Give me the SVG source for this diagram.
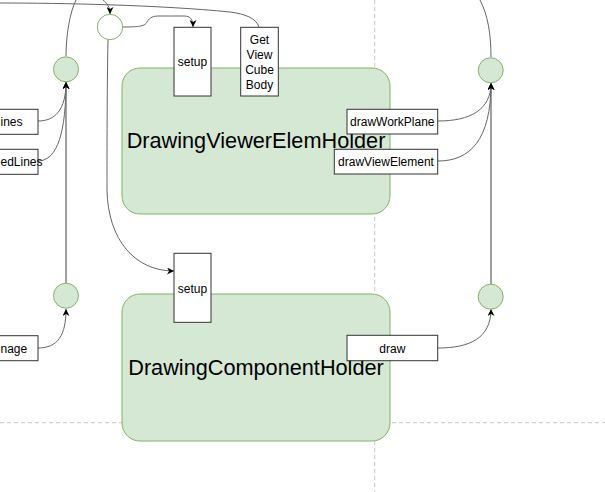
<svg xmlns="http://www.w3.org/2000/svg" width="605" height="492" viewBox="0 0 605 492">
<style>
.bg{fill:#ffffff}
.dash{stroke:#c8c8c8;stroke-width:1;stroke-dasharray:4 3;fill:none}
.holder{fill:#d5e8d4;stroke:#82b366;stroke-width:1}
.circ{fill:#d5e8d4;stroke:#82b366;stroke-width:1}
.wcirc{fill:#ffffff;stroke:#82b366;stroke-width:1}
.lbl{fill:#ffffff;stroke:#333333;stroke-width:1}
.t{font-family:"Liberation Sans",Arial,sans-serif;fill:#000000}
.s{font-size:12px}
.big{font-size:21.7px}
.c{stroke:#666666;stroke-width:1;fill:none}
.v{stroke:#888888;stroke-width:1.6;fill:none}
</style>
<defs>
<marker id="arr" viewBox="0 0 10 10" refX="10" refY="5" markerWidth="7" markerHeight="7" orient="auto" markerUnits="userSpaceOnUse">
<path d="M0,0 L10,5 L0,10 L3,5 Z" fill="#000000"/>
</marker>
</defs>
<rect class="bg" x="0" y="0" width="605" height="492"/>
<g id="guides">
<line class="dash" x1="374.7" y1="0" x2="374.7" y2="492"/>
<line class="dash" x1="0" y1="422.7" x2="605" y2="422.7"/>
</g>
<g id="holder1">
<rect class="holder" x="122" y="68" width="268" height="146" rx="18" ry="18"/>
<text class="t big" x="256" y="148" text-anchor="middle">DrawingViewerElemHolder</text>
</g>
<g id="holder2">
<rect class="holder" x="122" y="294" width="268" height="147" rx="18" ry="18"/>
<text class="t big" x="256" y="375" text-anchor="middle">DrawingComponentHolder</text>
</g>
<g id="connectors">
<path class="c" d="M259,27 C256,18 245,14 230,12 C160,5 60,3 0,3"/>
<path class="c" d="M103,0 C107,3 110,7 110,14" marker-end="url(#arr)"/>
<path class="c" d="M66,56 C66,35 70,12 76,0"/>
<path class="c" d="M491,57 C491,35 488,15 480,0"/>
<path class="c" d="M123,27 C140,27 145,26 147,22 C150,17 153,16 160,16 L184,16 C190,16 193,19 193,27" marker-end="url(#arr)"/>
<path class="c" d="M108,40 C107,90 107,150 107,190 C108,240 135,271 174,271" marker-end="url(#arr)"/>
<path class="v" d="M66,283 L66,82" marker-end="url(#arr)"/>
<path class="c" d="M38,121 C55,121 66,110 66,82" marker-end="url(#arr)"/>
<path class="c" d="M38,161 C58,161 66,130 66,82" marker-end="url(#arr)"/>
<path class="c" d="M38,348 C58,348 66,335 66,309" marker-end="url(#arr)"/>
<path class="v" d="M491,284 L491,83" marker-end="url(#arr)"/>
<path class="c" d="M438,121 C470,121 491,110 491,83" marker-end="url(#arr)"/>
<path class="c" d="M438,161 C470,161 491,140 491,83" marker-end="url(#arr)"/>
<path class="c" d="M438,348 C470,348 491,338 491,309" marker-end="url(#arr)"/>
</g>
<g id="junction">
<circle class="wcirc" cx="110" cy="27" r="12.7"/>
</g>
<g id="circleTL"><circle class="circ" cx="66" cy="69.3" r="12.5"/></g>
<g id="circleBL"><circle class="circ" cx="66" cy="295.7" r="12.5"/></g>
<g id="circleTR"><circle class="circ" cx="490.7" cy="70.3" r="12.5"/></g>
<g id="circleBR"><circle class="circ" cx="490.7" cy="296.7" r="12.5"/></g>
<g id="setup1">
<rect class="lbl" x="174" y="27.3" width="37" height="68.7"/>
<text class="t s" x="192.5" y="66" text-anchor="middle">setup</text>
</g>
<g id="getViewCubeBody">
<rect class="lbl" x="240.7" y="27.3" width="37.6" height="68.7"/>
<text class="t s" x="259.5" text-anchor="middle"><tspan x="259.5" y="44">Get</tspan><tspan x="259.5" y="59">View</tspan><tspan x="259.5" y="74">Cube</tspan><tspan x="259.5" y="89">Body</tspan></text>
</g>
<g id="setup2">
<rect class="lbl" x="174" y="253.3" width="37" height="69"/>
<text class="t s" x="192.5" y="293" text-anchor="middle">setup</text>
</g>
<g id="lines">
<rect class="lbl" x="-40" y="109.3" width="78" height="25"/>
<text class="t s" x="0.5" y="126">ines</text>
</g>
<g id="edLines">
<rect class="lbl" x="-40" y="149.3" width="78" height="25"/>
<text class="t s" x="0.5" y="166">edLines</text>
</g>
<g id="nage">
<rect class="lbl" x="-40" y="335.7" width="78" height="25"/>
<text class="t s" x="0.5" y="353">nage</text>
</g>
<g id="drawWorkPlane">
<rect class="lbl" x="347" y="109.3" width="90.7" height="24.7"/>
<text class="t s" x="392.3" y="126" text-anchor="middle">drawWorkPlane</text>
</g>
<g id="drawViewElement">
<rect class="lbl" x="334.3" y="149.3" width="103.4" height="24.7"/>
<text class="t s" x="386" y="166" text-anchor="middle">drawViewElement</text>
</g>
<g id="draw">
<rect class="lbl" x="347" y="335.3" width="90.7" height="25.4"/>
<text class="t s" x="392.3" y="352.5" text-anchor="middle">draw</text>
</g>
</svg>
